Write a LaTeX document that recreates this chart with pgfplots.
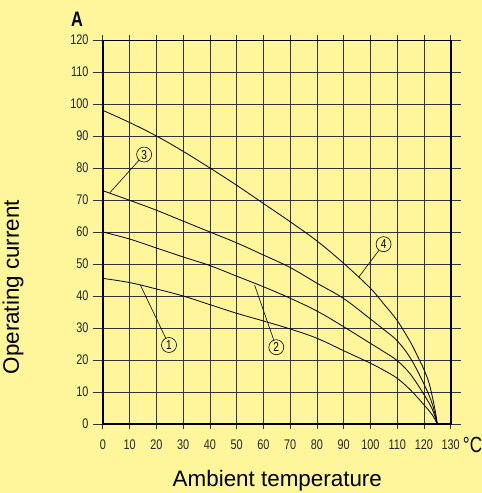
\documentclass[border=0pt]{standalone}
\usepackage{fontspec}
\setmainfont{Liberation Sans}
\usepackage{graphicx}
\usepackage{pgfplots}
\pgfplotsset{compat=1.18}
\definecolor{bgyellow}{RGB}{255,245,155}
\newcommand{\nar}[1]{\scalebox{0.78}[1]{#1}}
\begin{document}
\begin{tikzpicture}
\useasboundingbox (-103bp,-69bp) rectangle (379bp,424.3bp);
\fill[bgyellow] (-103bp,-69bp) rectangle (379bp,424.3bp);
\begin{axis}[
  at={(0,0)}, anchor=south west,
  scale only axis, width=348bp, height=384.3bp,
  xmin=0, xmax=130, ymin=0, ymax=120,
  xtick={0,10,...,130}, ytick={0,10,...,120},
  grid=major, grid style={black!80, line width=0.9bp},
  axis line style={black, line width=0.9bp},
  tick align=outside, major tick length=10bp,
  tick style={black!80, line width=0.9bp},
  xtick style={/pgfplots/major tick length=5bp},
  xticklabel={\nar{\pgfmathprintnumber[assume math mode=true]{\tick}}},
  yticklabel={\nar{\pgfmathprintnumber[assume math mode=true]{\tick}}},
  tick label style={font=\fontsize{14}{15}\selectfont, black!85},
  x tick label style={yshift=-2bp},
  y tick label style={xshift=-1bp},
  clip=false,
]
\addplot[black, line width=0.8bp, smooth, tension=0.6] coordinates {
(0,45.5)(10,44.2)(20,42.2)(30,40)(40,37.3)(50,34.6)(60,32.2)(70,29.7)(80,26.8)(90,22.9)(100,19)(105,16.8)(110,14.3)(115,10.6)(120,6)(123,3)(125,0)};
\addplot[black, line width=0.8bp, smooth, tension=0.6] coordinates {
(0,60)(10,57.8)(20,55)(30,52.2)(40,49.5)(50,46.2)(60,42.9)(70,39.3)(80,35.3)(90,30.4)(100,25.2)(105,22.6)(110,19.8)(115,15.5)(120,9.2)(123,4.8)(125,0)};
\addplot[black, line width=0.8bp, smooth, tension=0.6] coordinates {
(0,72.9)(10,69.9)(20,66.8)(30,63.4)(40,60)(50,56.6)(60,52.8)(70,48.9)(80,44)(90,39.2)(100,32.8)(105,29.5)(110,26)(115,20.5)(120,12.5)(123,6.5)(125,0)};
\addplot[black, line width=0.8bp, smooth, tension=0.6] coordinates {
(0,98)(10,94.2)(20,90)(30,85.2)(40,80)(50,74.6)(60,68.9)(70,63.2)(80,57.2)(90,50.2)(100,42.4)(105,37.5)(110,32.3)(115,25.5)(118,20.5)(120,17)(122,12.5)(124,5)(125,0)};
% heavy frame lines
\draw[black, line width=2bp] (axis cs:0,120) -- (axis cs:0,0) -- (axis cs:130,0) -- (axis cs:130,120);
% circled labels
\tikzset{lab/.style={circle, draw=black, line width=0.6bp, minimum size=15bp, inner sep=0pt, font=\fontsize{13}{14}\selectfont}}
\node[lab] (c1) at (axis cs:24.7,24.7) {\nar{1}};
\node[lab] (c2) at (axis cs:64.8,24) {\nar{2}};
\node[lab] (c3) at (axis cs:15.4,84.2) {\nar{3}};
\node[lab] (c4) at (axis cs:104.9,56.2) {\nar{4}};
\draw[black, line width=0.6bp] (axis cs:14,43.4) -- (c1);
\draw[black, line width=0.6bp] (axis cs:56.7,43.4) -- (c2);
\draw[black, line width=0.6bp] (axis cs:2.6,72.3) -- (c3);
\draw[black, line width=0.6bp] (axis cs:95.7,46) -- (c4);
\end{axis}
\node at (-26bp,405bp) {\fontsize{21}{22}\selectfont\bfseries\nar{A}};
\node[anchor=west, inner sep=0pt] at (360bp,-21bp) {\fontsize{22}{24}\selectfont\nar{°C}};
\node[rotate=90] at (-90bp,137bp) {\fontsize{22.5}{26}\selectfont Operating current};
\node at (174.5bp,-57bp) {\fontsize{22.5}{26}\selectfont Ambient temperature};
\end{tikzpicture}
\end{document}
